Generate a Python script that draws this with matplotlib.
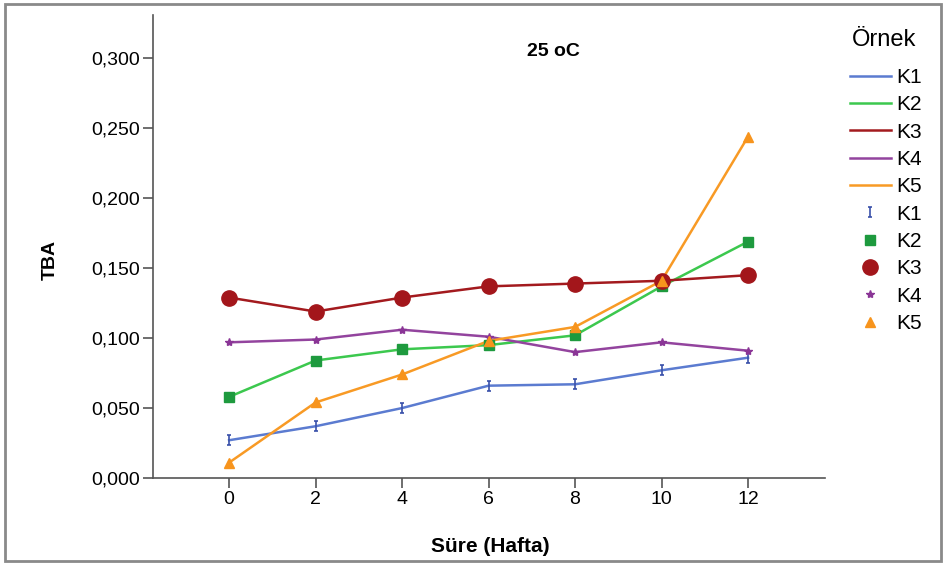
import matplotlib.pyplot as plt
from matplotlib.path import Path
from matplotlib.patches import Rectangle
from matplotlib.ticker import FuncFormatter

plt.rcParams['font.family'] = ['Liberation Sans', 'DejaVu Sans']

weeks = [0, 2, 4, 6, 8, 10, 12]
k1 = [0.027, 0.037, 0.050, 0.066, 0.067, 0.077, 0.086]
k2 = [0.058, 0.084, 0.092, 0.095, 0.102, 0.137, 0.169]
k3 = [0.129, 0.119, 0.129, 0.137, 0.139, 0.141, 0.145]
k4 = [0.097, 0.099, 0.106, 0.101, 0.090, 0.097, 0.091]
k5 = [0.011, 0.054, 0.074, 0.098, 0.108, 0.141, 0.244]
names = ["K1", "K2", "K3", "K4", "K5"]
yticks = [0.0, 0.05, 0.10, 0.15, 0.20, 0.25, 0.30]

line_colors = ["#5b7bd0", "#3cc84e", "#a31a1e", "#93449e", "#f89a25"]
mark_colors = ["#3b52aa", "#1e9a3e", "#a3161b", "#8a3596", "#f7941d"]

# "I" shaped marker like the SPSS one
i_marker = Path(
    [(-0.4, 1), (0.4, 1), (0, 1), (0, -1), (-0.4, -1), (0.4, -1)],
    [Path.MOVETO, Path.LINETO, Path.MOVETO, Path.LINETO, Path.MOVETO, Path.LINETO],
)
markers = [i_marker, "s", "o", "*", "^"]
msizes = [7, 7, 11, 6, 7]

fig = plt.figure(figsize=(9.45, 5.65), dpi=100)
ax = fig.add_axes([153 / 945, (565 - 478) / 565, (825 - 153) / 945, (478 - 15) / 565])

series = [k1, k2, k3, k4, k5]
line_handles = []
mark_handles = []
for vals, name, lc, mc, mk, ms in zip(series, names, line_colors, mark_colors, markers, msizes):
    ln, = ax.plot(weeks, vals, color=lc, linewidth=1.8, label=name, zorder=2)
    if mk is i_marker:
        mh, = ax.plot(weeks, vals, linestyle="none", marker=mk, markersize=ms,
                      markerfacecolor="none", markeredgecolor=mc, markeredgewidth=1.2,
                      label=name, zorder=3)
    else:
        mh, = ax.plot(weeks, vals, linestyle="none", marker=mk, markersize=ms,
                      color=mc, markeredgecolor=mc, label=name, zorder=3)
    line_handles.append(ln)
    mark_handles.append(mh)

ax.set_xlim(-1.76, 13.78)
ax.set_ylim(0, 0.331)
ax.set_xticks(weeks)
ax.set_yticks(yticks)
ax.yaxis.set_major_formatter(FuncFormatter(lambda v, p: f"{v:.3f}".replace(".", ",")))
ax.tick_params(axis="both", direction="out", length=7, width=1.2, color="#555555",
               labelsize=14, pad=2)
for s in ["top", "right"]:
    ax.spines[s].set_visible(False)
for s in ["left", "bottom"]:
    ax.spines[s].set_color("#555555")
    ax.spines[s].set_linewidth(1.2)

fig.text(50 / 945, 1 - 260 / 565, "TBA", ha="center", va="center", rotation=90,
         fontsize=14, fontweight="bold")
fig.text(490 / 945, 1 - 546 / 565, "Süre (Hafta)", ha="center", va="center",
         fontsize=15, fontweight="bold")
fig.text(553 / 945, 1 - 51 / 565, "25 oC", ha="center", va="center",
         fontsize=14, fontweight="bold")

# legend title drawn separately so the gap below it matches
fig.text(852 / 945, 1 - 40 / 565, "Örnek", ha="left", va="center", fontsize=17)
leg = fig.legend(line_handles + mark_handles, names + names,
                 loc="upper left", bbox_to_anchor=(850 / 945, 1 - 68 / 565),
                 frameon=False, fontsize=15,
                 borderpad=0, borderaxespad=0,
                 handlelength=1.95, handletextpad=0.25, labelspacing=0.4)

fig.patches.append(Rectangle((5 / 945, 4 / 565), 936 / 945, 557 / 565,
                             transform=fig.transFigure, fill=False,
                             edgecolor="#8a8a8a", linewidth=2))

fig.savefig("out.png", dpi=100)
